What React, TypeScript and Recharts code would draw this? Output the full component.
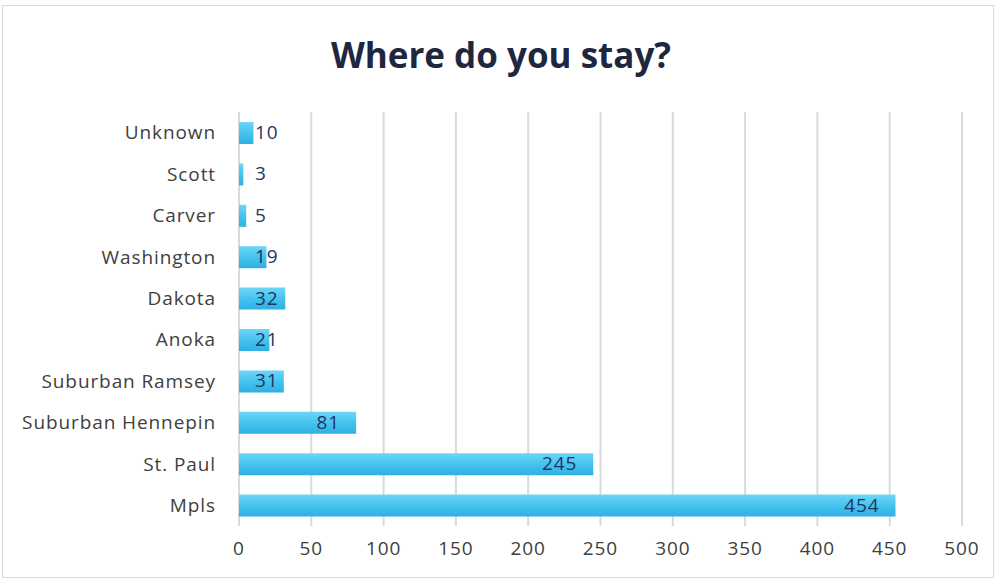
import { BarChart, Bar, XAxis, YAxis, CartesianGrid, LabelList } from "recharts";

const regions = [
  "Unknown",
  "Scott",
  "Carver",
  "Washington",
  "Dakota",
  "Anoka",
  "Suburban Ramsey",
  "Suburban Hennepin",
  "St. Paul",
  "Mpls",
];
const counts = [10, 3, 5, 19, 32, 21, 31, 81, 245, 454];
const xTicks = [0, 50, 100, 150, 200, 250, 300, 350, 400, 450, 500];

const data = regions.map((name, i) => ({ name, count: counts[i] }));

const FONT = "'Open Sans', 'Noto Sans', sans-serif";
const tickStyle = { fontSize: 19, fill: "#404040", fontFamily: FONT, letterSpacing: 0.9 };

// Excel-style "inside end" label: pushed right of the bar start when the bar is too short
function ValueLabel(props: any) {
  const { x, y, width, height, value } = props;
  const txt = String(value);
  const tw = txt.length * 11;
  const pad = 16;
  const fits = width - pad * 2 >= tw;
  const lx = fits ? x + width - pad : x + pad;
  return (
    <text
      x={lx}
      y={y + height / 2 + 1}
      textAnchor={fits ? "end" : "start"}
      dominantBaseline="middle"
      fill="#1f3560"
      fontSize={19}
      letterSpacing={0.9}
      fontFamily={FONT}
    >
      {txt}
    </text>
  );
}

export default function App() {
  return (
    <div style={{ position: "absolute", left: 0, top: 0, width: 997, height: 582, background: "#fff" }}>
      <div
        style={{
          position: "absolute",
          left: 2,
          top: 5,
          width: 992,
          height: 573,
          border: "1px solid #d9d9d9",
          boxSizing: "border-box",
        }}
      />
      <div
        style={{
          position: "absolute",
          left: 0,
          top: 30,
          width: 1002,
          textAlign: "center",
          fontFamily: FONT,
          fontWeight: 700,
          fontSize: 35,
          color: "#1e2640",
          lineHeight: "50px",
        }}
      >
        Where do you stay?
      </div>
      <BarChart
        width={997}
        height={582}
        data={data}
        layout="vertical"
        margin={{ top: 112, right: 35, bottom: 16, left: 0 }}
        barCategoryGap={0}
        style={{ position: "absolute", left: 0, top: 0 }}
      >
        <defs>
          <linearGradient id="barFill" x1="0" y1="0" x2="0" y2="1">
            <stop offset="0%" stopColor="#6fd6f6" />
            <stop offset="50%" stopColor="#45c3f0" />
            <stop offset="100%" stopColor="#2eb0e2" />
          </linearGradient>
        </defs>
        <CartesianGrid horizontal={false} stroke="#d9d9de" strokeWidth={2} />
        <XAxis
          type="number"
          domain={[0, 500]}
          ticks={xTicks}
          axisLine={false}
          tickLine={false}
          tickSize={0}
          tickMargin={16}
          height={40}
          tick={tickStyle}
        />
        <YAxis
          type="category"
          dataKey="name"
          width={239}
          axisLine={false}
          tickLine={false}
          tickSize={0}
          tickMargin={23}
          tick={tickStyle}
        />
        <Bar dataKey="count" fill="url(#barFill)" barSize={22} isAnimationActive={false}>
          <LabelList dataKey="count" content={<ValueLabel />} />
        </Bar>
      </BarChart>
    </div>
  );
}
